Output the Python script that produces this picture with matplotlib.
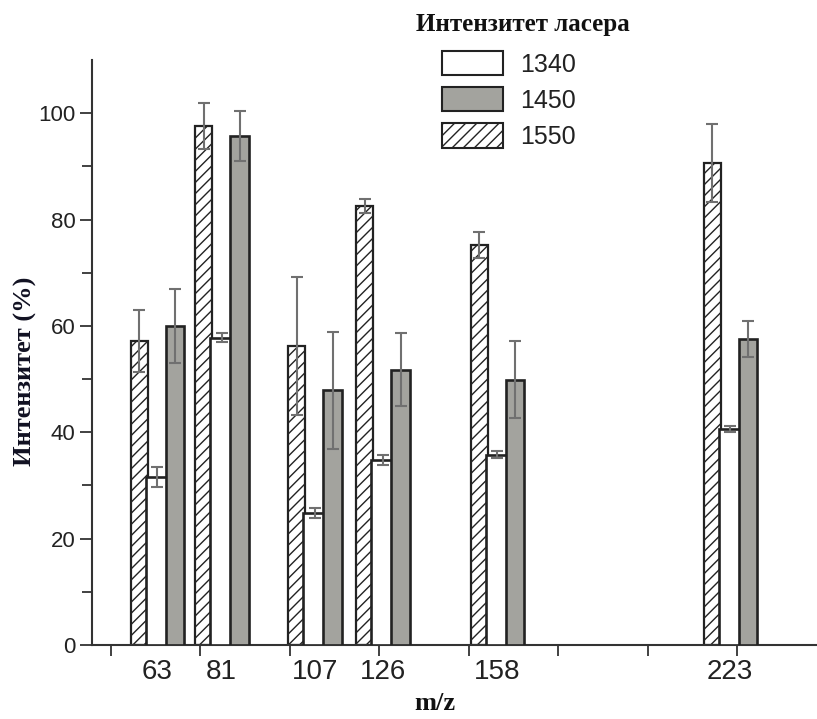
import matplotlib
matplotlib.use("Agg")
import matplotlib.pyplot as plt
from matplotlib.patches import Patch
from matplotlib.ticker import FixedLocator, NullFormatter

# ---- data ----
mz = [63, 81, 107, 126, 158, 223]
tick_labels = ["63", "81", "107", "126", "158", "223"]
series_names = ["1340", "1450", "1550"]
v1340 = [31.6, 57.8, 24.8, 34.8, 35.8, 40.6]
e1340 = [1.9, 0.8, 1.0, 0.9, 0.7, 0.6]
v1450 = [60.0, 95.7, 47.9, 51.8, 49.9, 57.5]
e1450 = [6.9, 4.7, 11.0, 6.8, 7.2, 3.4]
v1550 = [57.2, 97.6, 56.2, 82.5, 75.2, 90.6]
e1550 = [5.8, 4.3, 13.0, 1.3, 2.4, 7.3]

plt.rcParams['hatch.linewidth'] = 1.0
sans = ['Liberation Sans', 'DejaVu Sans']
serif = ['Liberation Serif', 'DejaVu Serif']

W, H = 817, 719
fig = plt.figure(figsize=(W / 100, H / 100), dpi=100)
ax = fig.add_axes([92 / W, 74 / H, (W - 92) / W, 585 / H])

edge = '#222222'
gray = '#a3a39e'
errc = '#707070'
ekw = dict(ecolor=errc, elinewidth=1.5, capsize=4.5, capthick=1.5)

x1550 = [m - 5.0 for m in mz]
x1450 = [m + 5.0 for m in mz]

ax.bar(x1550, v1550, width=4.8, color='white', edgecolor=edge, linewidth=1.6,
       hatch='///', yerr=e1550, error_kw=ekw, zorder=2)
ax.bar(mz, v1340, width=6.4, color='white', edgecolor=edge, linewidth=1.9,
       yerr=e1340, error_kw=ekw, zorder=3)
ax.bar(x1450, v1450, width=5.2, color=gray, edgecolor=edge, linewidth=1.9,
       yerr=e1450, error_kw=ekw, zorder=4)

ax.set_xlim(44.8, 247.3)
ax.set_ylim(0, 110)

for s in ['top', 'right']:
    ax.spines[s].set_visible(False)
for s in ['left', 'bottom']:
    ax.spines[s].set_linewidth(1.5)
    ax.spines[s].set_color('#333333')

# x ticks: unlabeled major ticks every 25, labels at m/z values
ax.xaxis.set_major_locator(FixedLocator([50, 75, 100, 125, 150, 175, 200, 225]))
ax.xaxis.set_major_formatter(NullFormatter())
ax.xaxis.set_minor_locator(FixedLocator(mz))
ax.set_xticklabels(tick_labels, minor=True)
ax.tick_params(axis='x', which='major', direction='out', length=8, width=1.3, color='#333333')
ax.tick_params(axis='x', which='minor', length=0, pad=10, labelsize=20, labelcolor='#222222')
for t in ax.xaxis.get_minorticklabels():
    t.set_family(sans)

ax.yaxis.set_major_locator(FixedLocator([0, 20, 40, 60, 80, 100]))
ax.yaxis.set_minor_locator(FixedLocator([10, 30, 50, 70, 90]))
ax.tick_params(axis='y', which='major', direction='out', length=9, width=1.3,
               color='#333333', labelsize=16, labelcolor='#222222', pad=3)
ax.tick_params(axis='y', which='minor', direction='out', length=7, width=1.3, color='#333333')
for t in ax.yaxis.get_majorticklabels():
    t.set_family(sans)

fig.text(435 / W, 1 - 704 / H, 'm/z', ha='center', va='center', fontsize=19,
         fontweight='bold', family=serif, color='#111111')
fig.text(25 / W, 1 - 371 / H, 'Интензитет (%)', ha='center', va='center', fontsize=19,
         fontweight='bold', family=serif, rotation=90, color='#111122')
fig.text(523 / W, 1 - 25 / H, 'Интензитет ласера', ha='center', va='center', fontsize=18,
         fontweight='bold', family=serif, color='#111111')

handles = [
    Patch(facecolor='white', edgecolor=edge, linewidth=1.5),
    Patch(facecolor=gray, edgecolor=edge, linewidth=1.5),
    Patch(facecolor='white', edgecolor=edge, linewidth=1.5, hatch='///'),
]
leg = fig.legend(handles, series_names, loc='upper left',
                 bbox_to_anchor=(442 / W, 1 - 51 / H), bbox_transform=fig.transFigure,
                 frameon=False, borderpad=0, borderaxespad=0,
                 handlelength=2.44, handleheight=1.12, handletextpad=0.68,
                 labelspacing=0.42, prop={'family': sans, 'size': 18})
for t in leg.get_texts():
    t.set_color('#222222')

fig.savefig('out.png', dpi=100)
